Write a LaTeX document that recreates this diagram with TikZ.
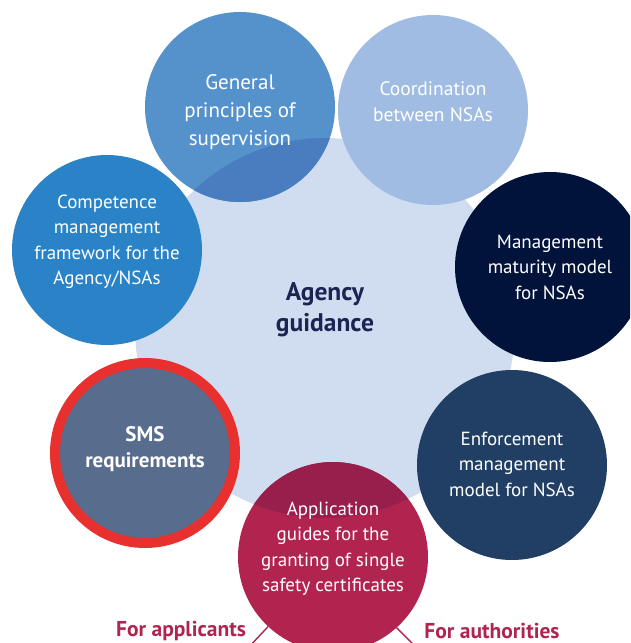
\documentclass[tikz,border=0pt]{standalone}
\usepackage{fontspec}
\setmainfont{PT Sans}
\usetikzlibrary{positioning}
\definecolor{agencyblue}{HTML}{D0DDF0}
\definecolor{agencyink}{HTML}{1B2452}
\definecolor{genblue}{HTML}{5592CC}
\definecolor{genover}{HTML}{4A7DC0}
\definecolor{coordblue}{HTML}{A0BCE2}
\definecolor{compblue}{HTML}{2A83C6}
\definecolor{matnavy}{HTML}{01133B}
\definecolor{enfnavy}{HTML}{213F64}
\definecolor{smsgrey}{HTML}{586C8E}
\definecolor{smsred}{HTML}{E8302E}
\definecolor{appred}{HTML}{B22450}
\definecolor{appover}{HTML}{981F4C}
\definecolor{forred}{HTML}{B02550}
\tikzset{bubble/.style={circle, minimum size=190pt, inner sep=0pt, outer sep=0pt}}
\tikzset{overlap/.style={path picture={\fill[#1] (Agency.center) circle (190pt);}}}
\tikzset{every label/.style={align=center, text=white, inner sep=0pt, font=\fontsize{19}{25.5}\selectfont}}
\tikzset{forlabel/.style={text=forred, inner sep=0pt, font=\bfseries\fontsize{21.5}{24}\selectfont}}
\tikzset{spoke/.style={draw=forred, line width=1.4pt}}

\begin{document}
\begin{tikzpicture}[x=1pt, y=-1pt]
		\useasboundingbox (0,0) rectangle (630,643);
		\clip (0,0) rectangle (630,643);
		\node[bubble, fill=agencyblue, minimum size=380pt, label={[yshift=18pt, text=agencyink, font=\bfseries\fontsize{25.5}{31}\selectfont]center:{Agency\\guidance}}] (Agency) at (325,328) {};
		\node[bubble, fill=genblue, overlap=genover, label={[yshift=-5pt, font=\fontsize{21}{28}\selectfont]center:{General\\principles of\\supervision}}] (Gen) at (240,107) {};
		\node[bubble, fill=coordblue, label={[yshift=8pt, font=\fontsize{19.5}{26}\selectfont]center:{Coordination\\between NSAs}}] (Coord) at (433,110) {};
		\node[bubble, fill=compblue, label={[yshift=8.5pt]center:{Competence\\management\\framework for the\\Agency/NSAs}}] (Comp) at (107,250) {};
		\node[bubble, fill=matnavy, label={center:{Management\\maturity model\\for NSAs}}] (Mat) at (550,267) {};
		\node[bubble, fill=smsgrey, draw=smsred, line width=10pt, minimum size=180pt, label={[yshift=4pt, font=\bfseries\fontsize{21}{26}\selectfont]center:{SMS\\requirements}}] (SMS) at (145,453) {};
		\node[bubble, fill=enfnavy, label={[yshift=1pt]center:{Enforcement\\management\\model for NSAs}}] (Enf) at (512,465) {};
		\node[bubble, fill=appred, overlap=appover, label={[yshift=8.5pt]center:{Application\\guides for the\\granting of single\\safety certificates}}] (App) at (333,557) {};
		% the two audiences
		\node[forlabel] (Applicants) at (181,631) {For applicants};
		\node[forlabel] (Authorities) at (492,631) {For authorities};
		\coordinate (ApplEnd) at (248,648);
		\coordinate (AuthEnd) at (417,648);
		\draw[spoke] (App.227) -- (ApplEnd);
		\draw[spoke] (App.312) -- (AuthEnd);
\end{tikzpicture}
\end{document}
